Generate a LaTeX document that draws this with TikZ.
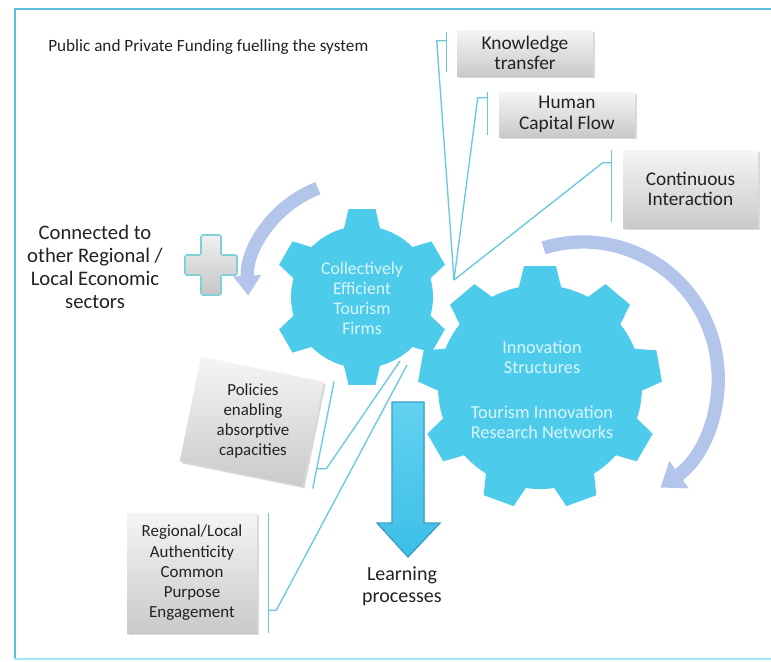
\documentclass[tikz,border=0pt]{standalone}
\usepackage{fontspec}
\setmainfont{Carlito}
\usepackage{tikz}
\usetikzlibrary{arrows.meta, shadows, calc}

\definecolor{gearblue}{RGB}{77,203,235}
\definecolor{frameblue}{RGB}{96,190,222}
\definecolor{framelight}{RGB}{160,232,248}
\definecolor{linkblue}{RGB}{104,200,222}
\definecolor{swirl}{RGB}{180,197,236}
\definecolor{geartxt}{RGB}{218,245,252}
\definecolor{inkgray}{RGB}{34,34,34}
\definecolor{arrowedge}{RGB}{58,160,200}
\definecolor{arrowtop}{RGB}{98,210,240}
\definecolor{arrowbottom}{RGB}{60,190,232}
\definecolor{plusedge}{RGB}{128,208,216}

\begin{document}
\begin{tikzpicture}[x=0.75pt, y=-0.75pt,
  box/.style={top color=gray!8, bottom color=gray!42, drop shadow={shadow xshift=1.5pt, shadow yshift=-1.5pt, opacity=0.3}, inner sep=0pt, align=center, text=inkgray, font=\fontsize{14.5}{15.5}\selectfont},
  caption/.style={text=inkgray, inner sep=0pt, font=\fontsize{12.9}{15}\selectfont},
  bigtext/.style={align=center, text=inkgray, font=\fontsize{15.5}{17.25}\selectfont},
  smalltext/.style={align=center, text=inkgray, font=\fontsize{12.7}{15.2}\selectfont},
  geartext/.style={align=center, text=geartxt, font=\fontsize{13.3}{15}\selectfont},
  link/.style={draw=linkblue, line width=1pt},
  swirlarrow/.style={draw=swirl, line width=10pt}]
  \useasboundingbox (0,0) rectangle (771,661);

  % frame
  \draw[frameblue, line width=2.2pt] (771,9) -- (15,9) -- (15,659);
  \draw[framelight, line width=2pt] (15,659) -- (771,659);

  \node[caption, anchor=west] (fund) at (48,47) {Public and Private Funding fuelling the system};

  % curved arrows
  \draw[swirlarrow, -{Triangle[width=20pt, length=15pt]}] ([shift={(-111:109)}]357,290) arc[start angle=-111, end angle=-183, radius=109];
  \draw[swirlarrow, -{Triangle[width=24pt, length=17pt]}] ([shift={(-107:135)}]583,377) arc[start angle=-107, end angle=55, radius=135];

  % gears
  \begin{scope}[shift={(362,297)}]
    \fill[gearblue] (-104.7:71) \foreach \a in {-90,-30,...,210} { -- ({\a-14.7}:71) -- ({\a-8.7}:89) -- ({\a+8.7}:89) -- ({\a+14.7}:71) arc[start angle=\a+14.7, end angle=\a+45.3, radius=71] } -- cycle;
  \end{scope}
  \begin{scope}[shift={(540,387)}]
    \fill[gearblue] (-102:102) \foreach \a in {-90,-50,...,230} { -- ({\a-12}:102) -- ({\a-7.5}:122) -- ({\a+7.5}:122) -- ({\a+12}:102) arc[start angle=\a+12, end angle=\a+28, radius=102] } -- cycle;
  \end{scope}
  \node[geartext] (firms) at (362,298) {Collectively\\Efficient\\Tourism\\Firms};
  \node[geartext, font=\fontsize{13.7}{15}\selectfont] (innov) at (542,390) {Innovation\\Structures\\[19pt]Tourism Innovation\\Research Networks};

  % plus sign
  \filldraw[draw=plusedge, line width=1.2pt, top color=gray!12, bottom color=gray!45, rounded corners=1.5pt]
    (201,235) -- (221,235) -- (221,255) -- (237,255) -- (237,275) -- (221,275) -- (221,295)
    -- (201,295) -- (201,275) -- (185,275) -- (185,255) -- (201,255) -- cycle;
  \node[bigtext] (sectors) at (95,267) {Connected to\\other Regional /\\Local Economic\\sectors};

  % learning arrow
  \filldraw[draw=arrowedge, line width=1pt, top color=arrowtop, bottom color=arrowbottom]
    (392,402) -- (424,402) -- (424,523) -- (440,523) -- (408,557) -- (377,523) -- (392,523) -- cycle;
  \node[bigtext, font=\fontsize{15}{16.5}\selectfont] (learn) at (402,586) {Learning\\processes};

  % boxes
  \node[box, minimum width=102pt, minimum height=34.5pt] (kt) at (525,53) {Knowledge\\transfer};
  \node[box, minimum width=102pt, minimum height=33.75pt] (hc) at (567,114.5) {Human\\Capital Flow};
  \node[box, minimum width=101.25pt, minimum height=58.5pt] (ci) at (690.5,189) {Continuous\\Interaction};
  \node[box, smalltext, minimum width=97.5pt, minimum height=90pt] (reg) at (192,573) {Regional/Local\\Authenticity\\Common\\Purpose\\Engagement};
  \node[box, minimum width=94pt, minimum height=80pt, rotate=-11.5] (pol) at (251.75,421.5) {};
  \node[smalltext] (poltext) at (253,421) {Policies\\enabling\\absorptive\\capacities};

  % connectors
  \coordinate (hub) at (454,280);
  \coordinate (huba) at (400,361);
  \coordinate (hubb) at (407,365);

  \draw[link] ([xshift=-7.5pt, yshift=-1.5pt]kt.north west) -- ([xshift=-7.5pt, yshift=3pt]kt.south west);
  \draw[link] (hub) -- ([xshift=-15pt, yshift=-8.25pt]kt.north west) -- ++(10,0);
  \draw[link] ([xshift=-8.25pt]hc.north west) -- ([xshift=-8.25pt, yshift=1.5pt]hc.south west);
  \draw[link] (hub) -- ([xshift=-15.75pt, yshift=-4.5pt]hc.north west) -- ++(10,0);
  \draw[link] ([xshift=-8.25pt]ci.north west) -- ([xshift=-8.25pt, yshift=4.5pt]ci.south west);
  \draw[link] (hub) -- ([xshift=-15pt, yshift=-9.75pt]ci.north west) -- ++(9,0);

  \draw[link] ($(pol.north east)+(10,0)$) -- ($(pol.south east)+(10,2)$);
  \draw[link] (huba) -- ($(pol.north east)!0.83!(pol.south east)+(20,0)$) -- ++(-10,0);
  \draw[link] ([xshift=8.25pt]reg.north east) -- ([xshift=8.25pt]reg.south east);
  \draw[link] (hubb) -- ([xshift=14.25pt, yshift=17.25pt]reg.south east) -- ++(-8,0);
\end{tikzpicture}
\end{document}
